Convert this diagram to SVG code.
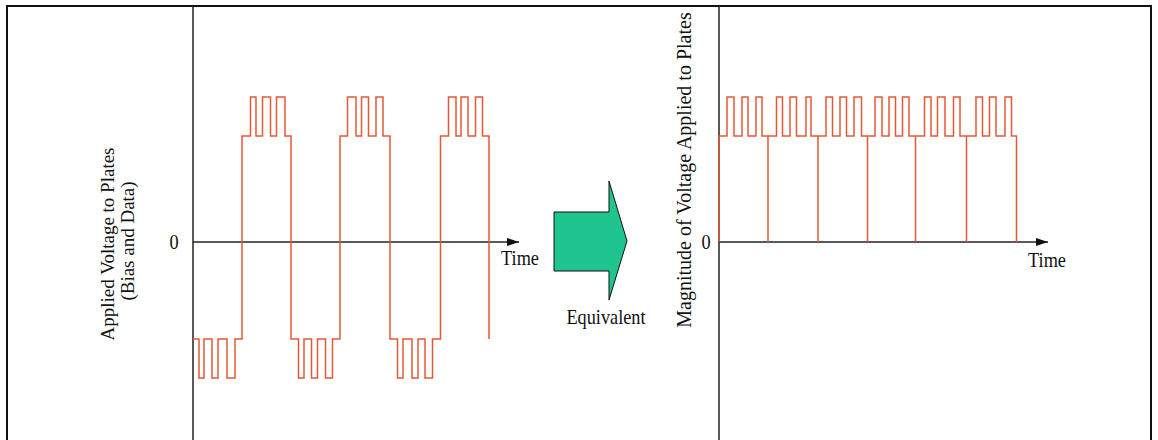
<svg xmlns="http://www.w3.org/2000/svg" width="1158" height="440" viewBox="0 0 1158 440">
  <style>
    .frame { fill: none; stroke: #111; stroke-width: 2; }
    .axis { fill: none; stroke: #222; stroke-width: 1.5; }
    .wave { fill: none; stroke: #E25A34; stroke-width: 1.5; stroke-linejoin: miter; }
    .lbl { font-family: "Liberation Serif", "Times New Roman", serif; font-size: 21px; fill: #111; }
    .vlbl { font-family: "Liberation Serif", "Times New Roman", serif; font-size: 19px; fill: #111; }
    .big-arrow { fill: #20C48E; stroke: #111; stroke-width: 1; }
  </style>
  <defs>
    <marker id="ah" markerWidth="12" markerHeight="8" refX="12" refY="4" orient="auto" markerUnits="userSpaceOnUse">
      <path d="M0,0 L12,4 L0,8 Z" fill="#111"/>
    </marker>
  </defs>
  <rect width="1158" height="440" fill="#fff"/>
  <rect class="frame" x="7" y="6" width="1144" height="440"/>

  <g id="axes">
    <line class="axis" x1="193" y1="6" x2="193" y2="440"/>
    <line class="axis" x1="193" y1="242" x2="519" y2="242" marker-end="url(#ah)"/>
    <line class="axis" x1="719" y1="6" x2="719" y2="440"/>
    <line class="axis" x1="719" y1="242" x2="1048" y2="242" marker-end="url(#ah)"/>
  </g>

  <g id="left-waveform">
    <path class="wave" d="M193,339 H199 V378 H204 V339 H212 V378 H218 V339 H227 V378 H235 V339 H242 V136 H250.5 V97 H256 V136 H262.5 V97 H270.5 V136 H276.5 V97 H285 V136 H291 V339 H298.5 V378 H304 V339 H311.5 V378 H317.5 V339 H325.5 V378 H332.5 V339 H340 V136 H347.5 V97 H356 V136 H361.5 V97 H368.5 V136 H376 V97 H383 V136 H390 V339 H397.5 V378 H403 V339 H412 V378 H418 V339 H425 V378 H432.5 V339 H440.5 V136 H448.5 V97 H456 V136 H461 V97 H468 V136 H475.5 V97 H482.5 V136 H489 V339"/>
  </g>

  <g id="right-waveform">
    <path class="wave" d="M719,242 V136 H727 V97 H734 V136 H742 V97 H748 V136 H756 V97 H762 V136 H768 V242 V136 H776.5 V97 H782.5 V136 H790 V97 H796.5 V136 H806 V97 H811 V136 H818 V242 V136 H826 V97 H832.5 V136 H840 V97 H846.5 V136 H854 V97 H861.5 V136 H867.5 V242 V136 H875 V97 H882 V136 H889 V97 H895.5 V136 H902.5 V97 H909 V136 H915.5 V242 V136 H924.5 V97 H931 V136 H937.5 V97 H945 V136 H953.5 V97 H960 V136 H966.5 V242 V136 H976 V97 H982.5 V136 H989.5 V97 H996 V136 H1005 V97 H1011.5 V136 H1016.5 V242"/>
  </g>

  <g id="left-labels">
    <text class="lbl" transform="translate(174,249) scale(0.87,1)" text-anchor="middle">0</text>
    <text class="lbl" transform="translate(520,265) scale(0.87,1)" text-anchor="middle">Time</text>
    <text class="vlbl" transform="translate(114,244) rotate(-90)" text-anchor="middle">Applied Voltage to Plates</text>
    <text class="vlbl" transform="translate(134,241) rotate(-90)" text-anchor="middle">(Bias and Data)</text>
  </g>

  <g id="equivalent-arrow">
    <polygon class="big-arrow" points="554,212 609,212 609,181 627,241 609,300 609,271 554,271"/>
    <text class="lbl" transform="translate(606,324) scale(0.87,1)" text-anchor="middle">Equivalent</text>
  </g>

  <g id="right-labels">
    <text class="lbl" transform="translate(706,249) scale(0.87,1)" text-anchor="middle">0</text>
    <text class="lbl" transform="translate(1047,267) scale(0.87,1)" text-anchor="middle">Time</text>
    <text class="vlbl" transform="translate(691,170) rotate(-90)" text-anchor="middle" style="font-size:20px">Magnitude of Voltage Applied to Plates</text>
  </g>
</svg>
